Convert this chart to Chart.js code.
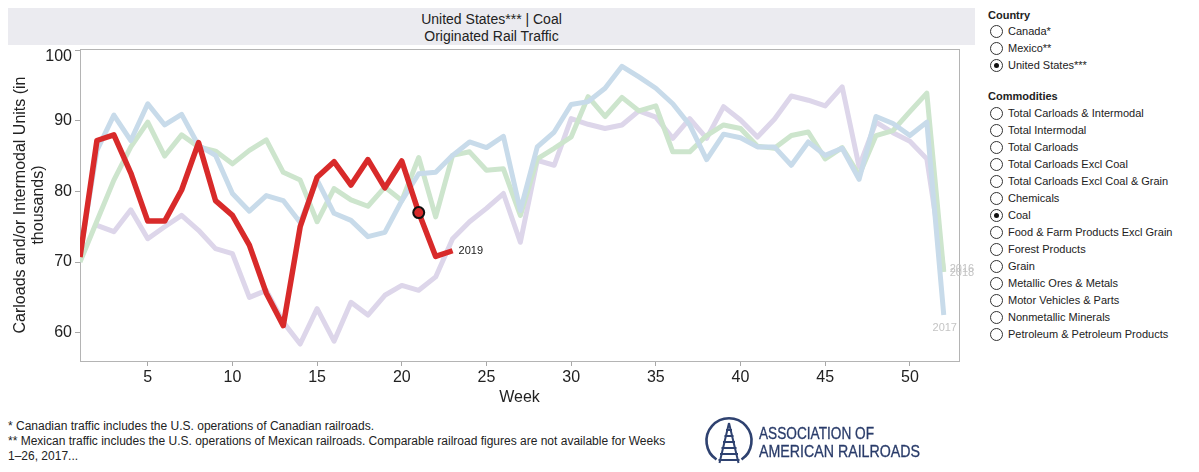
<!DOCTYPE html>
<html>
<head>
<meta charset="utf-8">
<script src="https://cdn.jsdelivr.net/npm/chart.js@4.4.1/dist/chart.umd.min.js"></script>
<style>
  html, body { margin:0; padding:0; background:#fff; }
  body { width:1199px; height:472px; position:relative; overflow:hidden; font-family:"Liberation Sans", Arial, sans-serif; color:#222; }
  #titlebox { position:absolute; left:8px; top:8px; width:967px; height:37px; background:#ebebf0; text-align:center; font-size:14px; line-height:17px; padding-top:3px; box-sizing:border-box; color:#222; }
  #wrap { position:absolute; left:0; top:0; width:975px; height:415px; }
  .hdr { position:absolute; left:988px; font-size:11px; font-weight:bold; color:#222; }
  .row { position:absolute; left:990px; font-size:11px; color:#222; height:14px; line-height:14px; white-space:nowrap; }
  .row .rb { position:absolute; left:0; top:0; width:11px; height:11px; border:1px solid #333; border-radius:50%; background:#fff; }
  .row .rb.on::after { content:""; position:absolute; left:3px; top:3px; width:5px; height:5px; border-radius:50%; background:#111; }
  .row .tx { position:absolute; left:18px; top:-1px; }
  .foot { position:absolute; left:8px; font-size:12px; color:#222; white-space:nowrap; }
</style>
</head>
<body>
<div id="titlebox">United States*** | Coal<br>Originated Rail Traffic</div>
<div id="wrap"><canvas id="c" width="975" height="415"></canvas></div>

<div id="legend"></div>

<div class="foot" style="top:419px">* Canadian traffic includes the U.S. operations of Canadian railroads.</div>
<div class="foot" style="top:434px">** Mexican traffic includes the U.S. operations of Mexican railroads. Comparable railroad figures are not available for Weeks</div>
<div class="foot" style="top:449px">1–26, 2017...</div>

<svg style="position:absolute;left:0;top:0" width="1199" height="472">
  <g stroke="#2f4270" fill="none" stroke-width="2.6">
    <path d="M 716.5 459.5 A 22.5 22.5 0 1 1 741.5 459.5"/>
    <path d="M 729 423 L 719.5 463 M 729 423 L 738.5 463" stroke-width="2"/>
    <path d="M 726 430 L 732 430 M 724.5 436 L 733.5 436 M 723 442 L 735 442 M 721.5 448 L 736.5 448 M 720 454 L 738 454 M 718.5 460 L 739.5 460" stroke-width="2"/>
  </g>
  <text x="759" y="439" font-family="Liberation Sans Narrow, Liberation Sans, Arial" font-size="16" fill="#2a3c6a" stroke="#2a3c6a" stroke-width="0.3" textLength="115" lengthAdjust="spacingAndGlyphs">ASSOCIATION OF</text>
  <text x="759" y="456.5" font-family="Liberation Sans Narrow, Liberation Sans, Arial" font-size="16" fill="#2a3c6a" stroke="#2a3c6a" stroke-width="0.3" textLength="161" lengthAdjust="spacingAndGlyphs">AMERICAN RAILROADS</text>
</svg>

<script>
// ---- data ----
const weeks = [1,2,3,4,5,6,7,8,9,10,11,12,13,14,15,16,17,18,19,20,21,22,23,24,25,26,27,28,29,30,31,32,33,34,35,36,37,38,39,40,41,42,43,44,45,46,47,48,49,50,51,52];
const values2019 = [70.7,87.2,88.0,82.6,75.8,75.8,80.2,86.9,78.7,76.6,72.4,65.6,61.0,75.0,82.0,84.2,80.9,84.5,80.5,84.3,77.0,70.8,71.6];
const values2017 = [71.0,85.8,90.8,87.2,92.4,89.4,90.9,86.5,85.1,79.7,77.2,79.4,78.7,75.6,81.6,76.9,75.9,73.6,74.2,78.7,82.5,82.7,85.1,87.0,86.2,87.8,77.3,86.3,88.4,92.3,92.7,94.6,97.7,96.2,94.6,92.4,89.4,84.5,88.1,87.6,86.3,86.3,83.7,87.0,85.1,86.1,81.7,90.6,89.6,87.9,89.8,62.5];
const values2018 = [70.0,75.8,81.6,86.3,89.8,85.0,88.0,86.3,85.7,83.9,85.8,87.3,82.7,81.6,75.7,80.4,78.8,77.9,80.6,78.7,84.8,76.4,85.1,85.6,83.0,83.2,76.6,84.6,86.1,87.7,93.4,90.6,93.3,91.4,92.1,85.6,85.6,87.9,89.4,88.9,86.4,86.1,87.9,88.4,84.6,86.2,82.3,87.9,88.6,91.3,93.9,68.6];
const values2016 = [null,75.2,74.3,77.4,73.3,75.0,76.6,74.5,71.9,71.2,65.0,66.0,61.5,58.4,63.4,58.8,64.3,62.5,65.3,66.7,66.0,67.9,73.3,75.7,77.6,79.7,72.8,84.4,83.7,90.3,89.5,88.9,89.4,91.4,90.5,87.5,90.3,87.5,92.0,90.1,87.7,90.2,93.5,92.9,92.1,94.8,83.5,89.8,88.3,87.1,84.6,68.8];
const seriesYears = ["2019","2017","2018","2016"];
const highlightWeek = 21;
const xTickValues = [5,10,15,20,25,30,35,40,45,50];
const yTickValues = [60,70,80,90,100];
const countries = ["Canada*","Mexico**","United States***"];
const selectedCountry = "United States***";
const commodities = ["Total Carloads & Intermodal","Total Intermodal","Total Carloads","Total Carloads Excl Coal","Total Carloads Excl Coal & Grain","Chemicals","Coal","Food & Farm Products Excl Grain","Forest Products","Grain","Metallic Ores & Metals","Motor Vehicles & Parts","Nonmetallic Minerals","Petroleum & Petroleum Products"];
const selectedCommodity = "Coal";

// ---- legend panel ----
(function(){
  const lg = document.getElementById('legend');
  let html = '<div class="hdr" style="top:9px">Country</div>';
  countries.forEach((c,i)=>{
    html += '<div class="row" style="top:'+(25+i*17)+'px"><span class="rb'+(c===selectedCountry?' on':'')+'"></span><span class="tx">'+c+'</span></div>';
  });
  html += '<div class="hdr" style="top:90px">Commodities</div>';
  commodities.forEach((c,i)=>{
    html += '<div class="row" style="top:'+(107+i*17)+'px"><span class="rb'+(c===selectedCommodity?' on':'')+'"></span><span class="tx">'+c.replace(/&/g,'&amp;')+'</span></div>';
  });
  lg.innerHTML = html;
})();

function toXY(vals){ return vals.map((v,i)=>({x:weeks[i], y:v})); }

const FONT = '"Liberation Sans", Arial, sans-serif';

const boxPlugin = {
  id:'box',
  beforeDatasetsDraw(chart){
    const {ctx, chartArea:a} = chart;
    ctx.save();
    ctx.strokeStyle = '#b4b4b4';
    ctx.lineWidth = 1;
    ctx.strokeRect(Math.round(a.left)+0.5, Math.round(a.top)+0.5, Math.round(a.right-a.left), Math.round(a.bottom-a.top));
    ctx.restore();
  }
};

// y tick labels, kept inside the plot's vertical range (top label sits below the top edge)
const yLabelPlugin = {
  id:'yLabels',
  afterDraw(chart){
    const ctx = chart.ctx, s = chart.scales.y, a = chart.chartArea;
    ctx.save();
    ctx.font = '16px '+FONT;
    ctx.fillStyle = '#222';
    ctx.textAlign = 'right';
    ctx.textBaseline = 'middle';
    yTickValues.forEach(v=>{
      const py = Math.max(s.getPixelForValue(v), a.top + 8);
      ctx.fillText(String(v), s.right - 8, py);
    });
    ctx.restore();
  }
};

const endLabelPlugin = {
  id:'endLabels',
  afterDatasetsDraw(chart){
    const ctx = chart.ctx;
    chart.data.datasets.forEach((ds,di)=>{
      const cfg = ds.endLabel; if(!cfg) return;
      const meta = chart.getDatasetMeta(di);
      let idx = -1;
      ds.data.forEach((p,i)=>{ if(p.y!==null && p.y!==undefined) idx=i; });
      if(idx<0) return;
      const pt = meta.data[idx];
      ctx.save();
      ctx.font = cfg.size+'px '+FONT;
      ctx.fillStyle = cfg.color;
      ctx.textAlign = cfg.align;
      ctx.textBaseline = 'middle';
      ctx.fillText(ds.label, pt.x+cfg.dx, pt.y+cfg.dy);
      ctx.restore();
    });
  }
};

const common = { fill:false, tension:0, borderJoinStyle:'round', borderCapStyle:'butt', pointRadius:0, pointHoverRadius:0, spanGaps:false };

new Chart(document.getElementById('c'), {
  type:'line',
  data:{
    datasets:[
      Object.assign({}, common, {label:seriesYears[0], data:toXY(values2019), borderColor:'#d82a2a', borderWidth:5.5, order:0,
        pointRadius:(c)=> (c.raw && c.raw.x===highlightWeek) ? 5.5 : 0,
        pointBackgroundColor:'#d82a2a', pointBorderColor:'#111', pointBorderWidth:2,
        endLabel:{dx:6, dy:0, color:'#222', size:11, align:'left'}}),
      Object.assign({}, common, {label:seriesYears[1], data:toXY(values2017), borderColor:'#c8dbea', borderWidth:5, order:1,
        endLabel:{dx:1, dy:13, color:'#c4c4c4', size:11, align:'center'}}),
      Object.assign({}, common, {label:seriesYears[2], data:toXY(values2018), borderColor:'#cde5cd', borderWidth:5, order:2,
        endLabel:{dx:6, dy:1, color:'#c4c4c4', size:11, align:'left'}}),
      Object.assign({}, common, {label:seriesYears[3], data:toXY(values2016), borderColor:'#ddd6ea', borderWidth:5, order:3,
        endLabel:{dx:6, dy:-2, color:'#c4c4c4', size:11, align:'left'}})
    ]
  },
  options:{
    responsive:false, animation:false, events:[],
    layout:{ padding:{top:49, right:16, left:0, bottom:0} },
    plugins:{ legend:{display:false}, tooltip:{enabled:false} },
    scales:{
      x:{
        type:'linear', min:1, max:52.9,
        afterBuildTicks(s){ s.ticks = xTickValues.map(v=>({value:v})); },
        afterFit(s){ s.height = 54; },
        grid:{ display:true, drawOnChartArea:false, tickLength:5, color:'#a8a8a8' },
        border:{ display:false },
        ticks:{ font:{family:FONT, size:16}, color:'#222', padding:2, maxRotation:0, autoSkip:false },
        title:{ display:true, text:'Week', font:{family:FONT, size:16}, color:'#222', padding:{top:0, bottom:8} }
      },
      y:{
        type:'linear', min:56, max:100.15,
        afterBuildTicks(s){ s.ticks = yTickValues.map(v=>({value:v})); },
        afterFit(s){ s.width = 80; },
        grid:{ display:true, drawOnChartArea:false, tickLength:5, color:'#a8a8a8' },
        border:{ display:false },
        ticks:{ display:false },
        title:{ display:true, text:['Carloads and/or Intermodal Units (in','thousands)'], font:{family:FONT, size:16, lineHeight:1.1}, color:'#222', padding:{top:12, bottom:0} }
      }
    }
  },
  plugins:[boxPlugin, endLabelPlugin, yLabelPlugin]
});
</script>
</body>
</html>
